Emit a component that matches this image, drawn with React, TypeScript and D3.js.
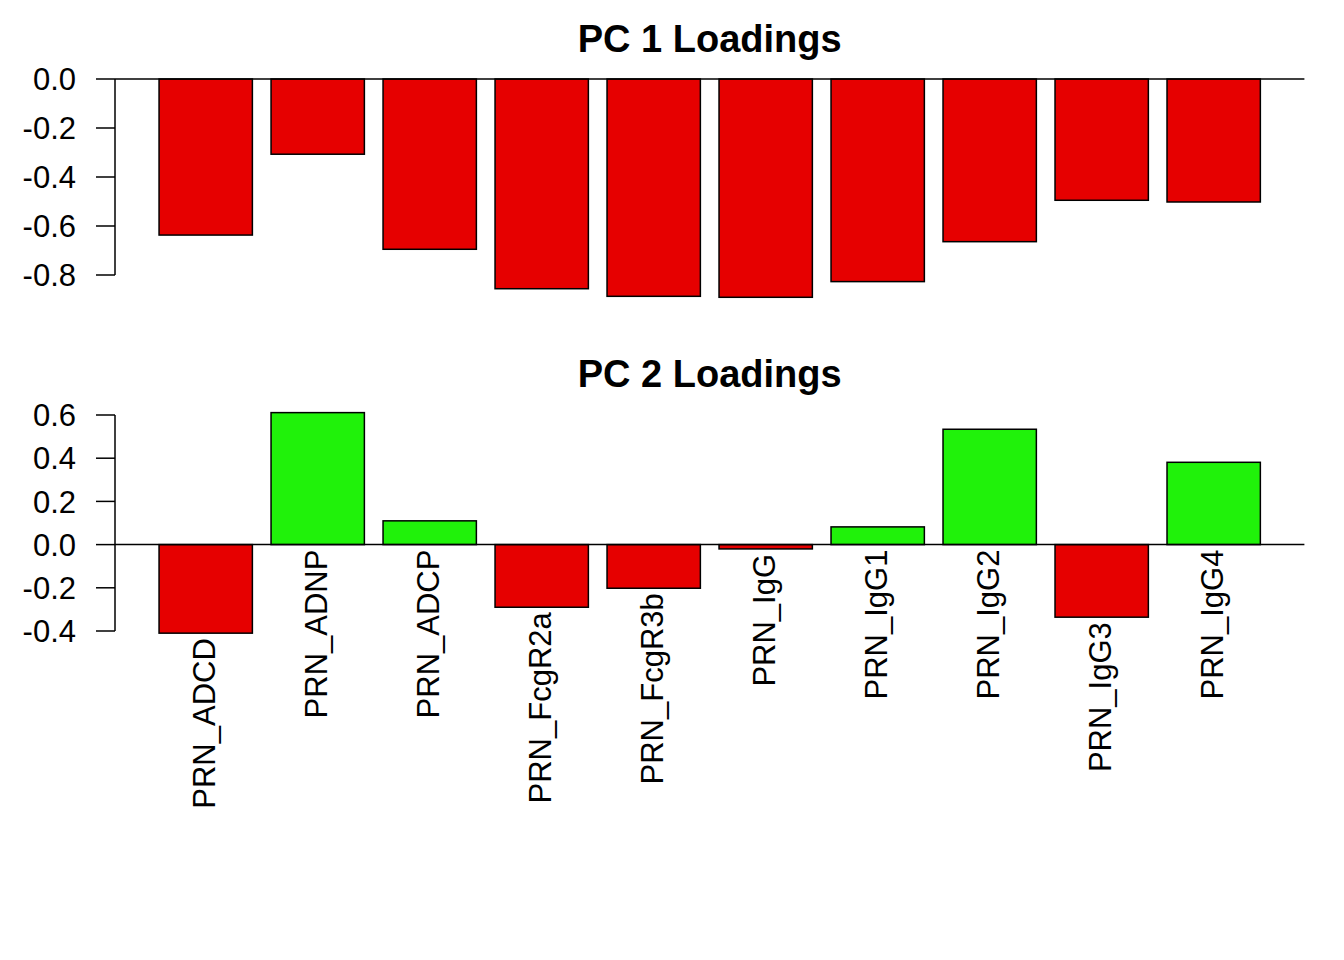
import React from "react";
import * as d3 from "d3";

const categories = [
  "PRN_ADCD",
  "PRN_ADNP",
  "PRN_ADCP",
  "PRN_FcgR2a",
  "PRN_FcgR3b",
  "PRN_IgG",
  "PRN_IgG1",
  "PRN_IgG2",
  "PRN_IgG3",
  "PRN_IgG4",
];

const pc1Values = [-0.637, -0.307, -0.695, -0.856, -0.887, -0.891, -0.827, -0.664, -0.495, -0.502];
const pc2Values = [-0.41, 0.611, 0.11, -0.29, -0.202, -0.02, 0.082, 0.534, -0.336, 0.381];

const pc1Ticks = [0, -0.2, -0.4, -0.6, -0.8];
const pc2Ticks = [0.6, 0.4, 0.2, 0, -0.2, -0.4];

const RED = "#E60000";
const GREEN = "#20F20A";
const FONT = "'Liberation Sans', Arial, Helvetica, sans-serif";

const W = 1344;
const H = 960;

// R barplot geometry: width 1, space 0.2, xlim extended by 4%
const x = d3.scaleLinear().domain([-0.272, 12.472]).range([115, 1304.4]);
const barLeft = (i: number) => 0.2 + i * 1.2;

const y1 = d3.scaleLinear().domain([0, -0.8]).range([79, 275]);
const y2 = d3.scaleLinear().domain([0.6, -0.4]).range([415, 631]);

const fmt = (t: number) => d3.format(".1f")(t).replace("\u2212", "-");

function Panel({
  values,
  ticks,
  y,
  title,
  titleY,
  colorBySign,
  labels,
}: {
  values: number[];
  ticks: number[];
  y: d3.ScaleLinear<number, number>;
  title: string;
  titleY: number;
  colorBySign: boolean;
  labels: boolean;
}) {
  const axisX = x.range()[0];
  const plotRight = x.range()[1];
  return (
    <g>
      <text
        x={(axisX + plotRight) / 2}
        y={titleY}
        textAnchor="middle"
        fontFamily={FONT}
        fontWeight="bold"
        fontSize={38}
      >
        {title}
      </text>
      {/* y axis */}
      <line
        x1={axisX}
        x2={axisX}
        y1={y(ticks[0])}
        y2={y(ticks[ticks.length - 1])}
        stroke="#000"
        strokeWidth={1.5}
      />
      {ticks.map((t) => (
        <g key={t}>
          <line x1={axisX - 19} x2={axisX} y1={y(t)} y2={y(t)} stroke="#000" strokeWidth={1.5} />
          <text
            x={76}
            y={y(t)}
            dy="0.36em"
            textAnchor="end"
            fontFamily={FONT}
            fontSize={31}
          >
            {fmt(t)}
          </text>
        </g>
      ))}
      {/* bars */}
      {values.map((v, i) => {
        const x0 = x(barLeft(i));
        const x1 = x(barLeft(i) + 1);
        const yTop = y(Math.max(0, v));
        const yBot = y(Math.min(0, v));
        const fill = colorBySign ? (v >= 0 ? GREEN : RED) : RED;
        return (
          <rect
            key={i}
            x={x0}
            y={yTop}
            width={x1 - x0}
            height={yBot - yTop}
            fill={fill}
            stroke="#000"
            strokeWidth={1.5}
          />
        );
      })}
      {/* zero line */}
      <line x1={axisX} x2={plotRight} y1={y(0)} y2={y(0)} stroke="#000" strokeWidth={1.5} />
      {labels &&
        values.map((v, i) => {
          const cx = x(barLeft(i) + 0.5);
          const ya = y(Math.min(0, v)) + 5;
          return (
            <text
              key={"l" + i}
              transform={`translate(${cx + 9},${ya}) rotate(-90)`}
              textAnchor="end"
              fontFamily={FONT}
              fontSize={31}
            >
              {categories[i]}
            </text>
          );
        })}
    </g>
  );
}

export default function App() {
  return (
    <svg
      width={W}
      height={H}
      viewBox={`0 0 ${W} ${H}`}
      style={{ position: "absolute", left: 0, top: 0, background: "#fff" }}
    >
      <rect x={0} y={0} width={W} height={H} fill="#fff" />
      <Panel
        values={pc1Values}
        ticks={pc1Ticks}
        y={y1}
        title="PC 1 Loadings"
        titleY={52}
        colorBySign={false}
        labels={false}
      />
      <Panel
        values={pc2Values}
        ticks={pc2Ticks}
        y={y2}
        title="PC 2 Loadings"
        titleY={387}
        colorBySign={true}
        labels={true}
      />
    </svg>
  );
}
